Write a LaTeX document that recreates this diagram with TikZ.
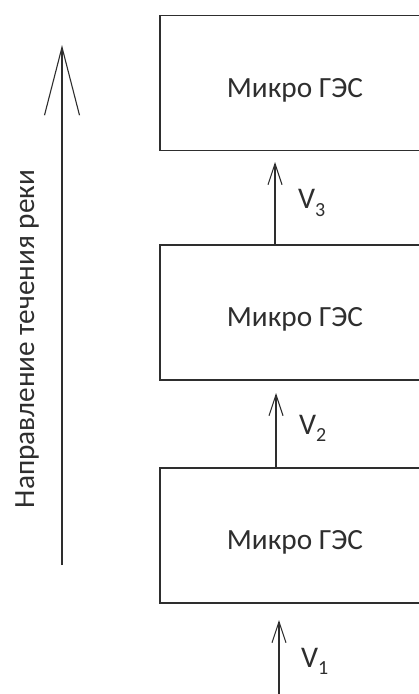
\documentclass[tikz,border=0pt]{standalone}
\usepackage{fontspec}
\setmainfont{Carlito}
\usetikzlibrary{arrows.meta}
\definecolor{ink}{HTML}{2E2E2E}
\newcommand{\hpplabel}{\raisebox{-14pt}[0pt][0pt]{Микро ГЭС}}
\begin{document}
\begin{tikzpicture}[x=1pt,y=-1pt,
  hpp/.style={draw=ink,line width=1.6pt,minimum width=270pt,minimum height=135pt,
    inner sep=0pt,text=ink,font=\fontsize{29.3}{34}\selectfont},
  flow/.style={draw=ink,line width=1.1pt,-{Straight Barb[length=21pt,width=14pt,line width=1.1pt]}},
  bigflow/.style={draw=ink,line width=1.1pt,-{Straight Barb[length=68pt,width=35pt,line width=1.1pt]}},
  vlab/.style={text=ink,font=\fontsize{30}{34}\selectfont,anchor=west,inner sep=0pt}]
\useasboundingbox (0,0) rectangle (419,694);
\fill[white] (0,0) rectangle (419,694);
\node[hpp] (b1) at (295,83) {\hpplabel};
\node[hpp] (b2) at (295,312.5) {\hpplabel};
\node[hpp] (b3) at (295,535.5) {\hpplabel};
\coordinate (a3s) at (275,245);
\coordinate (a3e) at (275,162);
\coordinate (a2s) at (276,468);
\coordinate (a2e) at (276,393);
\coordinate (a1s) at (279,700);
\coordinate (a1e) at (279,620);
\draw[flow] (a3s) -- (a3e);
\draw[flow] (a2s) -- (a2e);
\draw[flow] (a1s) -- (a1e);
\node[vlab] (v3) at (298,203) {V\raisebox{-0.5ex}{\fontsize{20}{20}\selectfont 3}};
\node[vlab] (v2) at (299,428) {V\raisebox{-0.5ex}{\fontsize{20}{20}\selectfont 2}};
\node[vlab] (v1) at (301,661) {V\raisebox{-0.5ex}{\fontsize{20}{20}\selectfont 1}};
\coordinate (bs) at (62,565);
\coordinate (be) at (62,45);
\draw[bigflow] (bs) -- (be);
\node[rotate=90,text=ink,font=\fontsize{29.3}{34}\selectfont,inner sep=0pt] (dir) at (27,339) {Направление течения реки};
\end{tikzpicture}
\end{document}
